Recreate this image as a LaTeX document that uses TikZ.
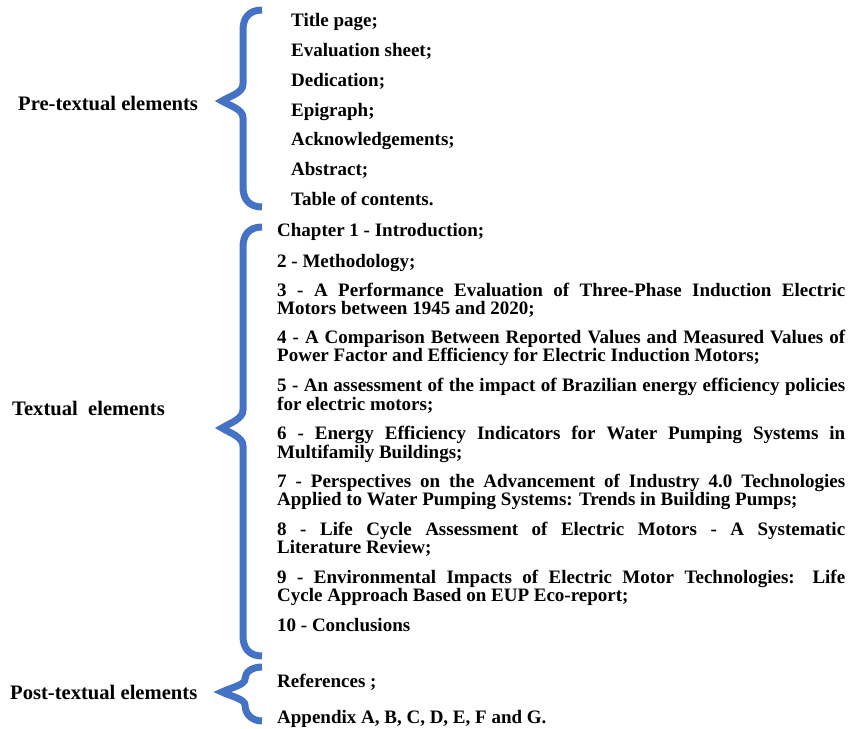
\documentclass[tikz,border=0pt]{standalone}
\usepackage{fontspec}
\setmainfont{Liberation Serif}
\definecolor{braceblue}{HTML}{4472C4}
\begin{document}
\begin{tikzpicture}[x=1pt, y=-1pt, font=\bfseries\fontsize{19}{17.5}\selectfont,
  curly/.style={draw=braceblue, line width=7pt},
  part/.style={anchor=base west, inner sep=0pt, font=\bfseries\fontsize{20.6}{22}\selectfont},
  entry/.style={anchor=base west, inner sep=0pt},
  chap/.style={entry, text width=568pt, align=justify}]
\useasboundingbox (0,0) rectangle (851,728);
%braces
\draw[curly] (262,10) .. controls (249,10) and (243,18) .. (243,30) -- (243,84)
  .. controls (243,93) and (230,96) .. (222,101) .. controls (230,106) and (243,109) .. (243,118)
  -- (243,187) .. controls (243,199) and (249,207) .. (262,207);
\draw[curly] (262,227) .. controls (249,227) and (243,235) .. (243,247) -- (243,410)
  .. controls (243,419) and (230,423) .. (222,428) .. controls (230,433) and (243,437) .. (243,446)
  -- (243,636) .. controls (243,648) and (249,656) .. (262,656);
\draw[curly] (262,667) .. controls (252,667) and (245,672) .. (245,679)
  .. controls (245,685) and (230,688) .. (222,692) .. controls (230,696) and (245,699) .. (245,705)
  .. controls (245,714) and (252,721) .. (262,721);
%labels
\node[part] (pre) at (18,110) {Pre-textual elements};
\node[part] (txt) at (12,415) {Textual\ \ elements};
\node[part] (post) at (10,699) {Post-textual elements};
%pre-textual
\foreach \t [count=\i] in {Title page;, Evaluation sheet;, Dedication;, Epigraph;,
    Acknowledgements;, Abstract;, Table of contents.}
  \node[entry] (pre\i) at (291,{27+29.67*(\i-1)}) {\t};
%textual
\node[chap] (ch1) at (277,236.5) {Chapter 1 - Introduction;};
\node[chap] (ch2) at (277,267.5) {2 - Methodology;};
\node[chap] (ch3) at (277,296.5) {3 - A Performance Evaluation of Three-Phase Induction Electric\linebreak Motors between 1945 and 2020;};
\node[chap] (ch4) at (277,343.5) {4 - A Comparison Between Reported Values and Measured Values of\linebreak Power Factor and Efficiency for Electric Induction Motors;};
\node[chap] (ch5) at (277,391.5) {5 - An assessment of the impact of Brazilian energy efficiency policies\linebreak for electric motors;};
\node[chap] (ch6) at (277,439.5) {6 - Energy Efficiency Indicators for Water Pumping Systems in\linebreak Multifamily Buildings;};
\node[chap] (ch7) at (277,487.5) {7 - Perspectives on the Advancement of Industry 4.0 Technologies\linebreak Applied to Water Pumping Systems: Trends in Building Pumps;};
\node[chap] (ch8) at (277,535.5) {8 - Life Cycle Assessment of Electric Motors - A Systematic\linebreak Literature Review;};
\node[chap] (ch9) at (277,583.5) {9 - Environmental Impacts of Electric Motor Technologies: Life\linebreak Cycle Approach Based on EUP Eco-report;};
\node[chap] (ch10) at (277,631.5) {10 - Conclusions};
%post-textual
\node[entry] (ref) at (277,687.5) {References ;};
\node[entry] (app) at (277,723.5) {Appendix A, B, C, D, E, F and G.};
\end{tikzpicture}
\end{document}
